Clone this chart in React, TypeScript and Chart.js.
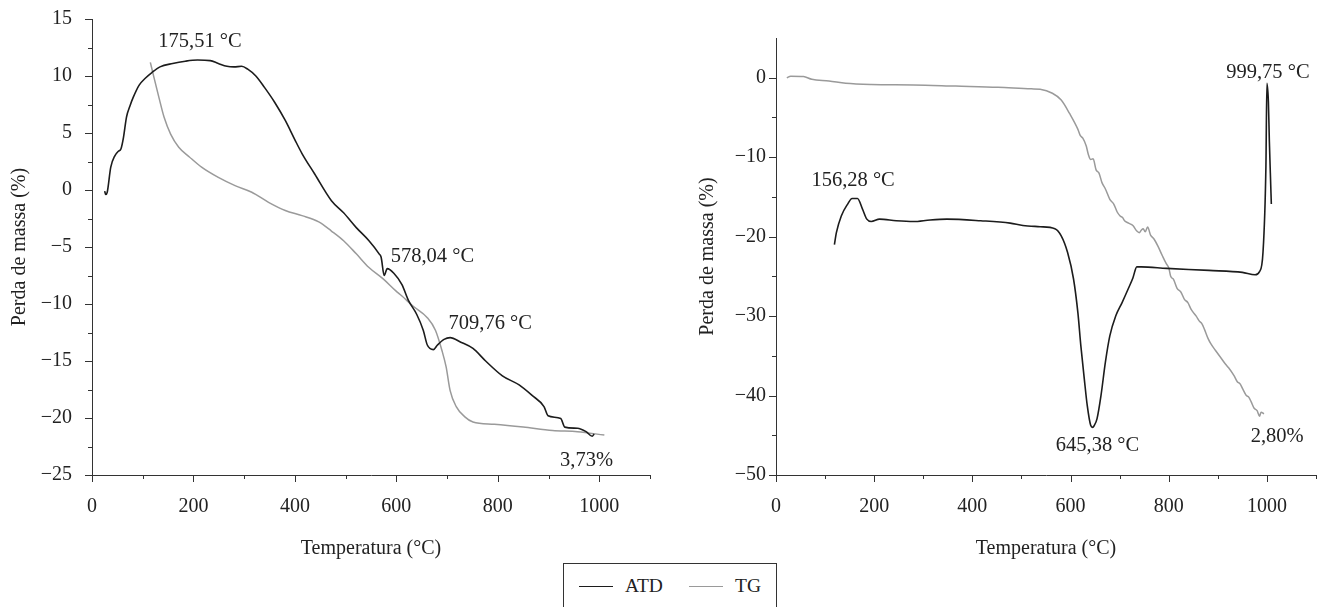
import React, { useEffect, useRef } from "react";
import { Chart, registerables } from "chart.js";

Chart.register(...registerables);

const FONT = "'Liberation Serif', 'Times New Roman', serif";
const INK = "#222";
const AXIS = "#333";
const ATD_COLOR = "#1c1c1c";
const TG_COLOR = "#9a9a9a";

// ---------- Left chart data ----------
const leftAtdT = [25, 27, 30, 37, 45, 52, 57, 62, 68, 75, 81, 93, 105, 118, 134, 159, 184, 208, 233, 249, 266, 280, 295, 307, 323, 340, 360, 381, 400, 414, 439, 472, 496, 521, 546, 566, 570, 576, 582, 595, 611, 624, 640, 653, 661, 673, 681, 694, 706, 727, 751, 776, 809, 842, 867, 891, 899, 924, 932, 957, 974, 986, 990];
const leftAtdV = [-0.1, -0.4, -0.2, 2.0, 3.0, 3.4, 3.6, 4.6, 6.4, 7.4, 8.1, 9.2, 9.8, 10.3, 10.8, 11.1, 11.3, 11.4, 11.35, 11.1, 10.85, 10.8, 10.85, 10.6, 10.0, 9.0, 7.7, 6.1, 4.4, 3.2, 1.4, -0.94, -2.0, -3.3, -4.45, -5.6, -5.9, -7.5, -6.9, -7.3, -8.3, -9.7, -10.9, -12.3, -13.6, -14.0, -13.6, -13.1, -12.95, -13.35, -13.9, -15.0, -16.3, -17.1, -18.0, -19.0, -19.8, -20.05, -20.8, -20.9, -21.2, -21.6, -21.4];

const leftTgT = [115, 122, 132, 142, 155, 171, 192, 216, 249, 282, 315, 348, 381, 414, 447, 472, 496, 521, 546, 574, 599, 611, 632, 661, 677, 690, 698, 706, 718, 735, 751, 793, 850, 908, 957, 1010];
const leftTgV = [11.2, 9.9, 8.1, 6.4, 4.9, 3.75, 2.9, 2.0, 1.1, 0.38, -0.2, -1.08, -1.8, -2.25, -2.8, -3.6, -4.45, -5.6, -6.8, -7.8, -8.85, -9.3, -10.15, -11.2, -12.3, -14.1, -15.5, -17.6, -19.0, -19.9, -20.35, -20.55, -20.8, -21.1, -21.2, -21.5];

const leftNoteText = ["175,51 °C", "578,04 °C", "709,76 °C", "3,73%"];
const leftNoteT = [213, 671, 785, 975];
const leftNoteV = [13.0, -5.8, -11.7, -23.7];

// ---------- Right chart data ----------
const rightAtdT = [119, 123, 133, 146, 155, 166, 176, 185, 194, 211, 245, 280, 314, 348, 417, 477, 503, 538, 568, 581, 594, 606, 615, 621, 628, 634, 641, 645, 648, 654, 662, 671, 680, 692, 705, 718, 727, 735, 744, 796, 882, 950, 976, 985, 992, 998, 1000, 1003, 1005, 1007, 1009];
const rightAtdV = [-21.0, -19.5, -17.4, -15.9, -15.2, -15.2, -16.5, -17.8, -18.1, -17.8, -18.0, -18.1, -17.9, -17.8, -18.0, -18.3, -18.6, -18.75, -19.0, -19.9, -22.0, -25.3, -29.6, -33.75, -37.9, -41.25, -43.75, -44.0, -43.8, -42.9, -40.0, -35.8, -32.5, -30.0, -28.3, -26.5, -25.2, -23.8, -23.8, -24.0, -24.25, -24.5, -24.8, -24.4, -22.0, -11.1, -0.7, -3.0, -8.0, -12.0, -15.9];

const rightTgT = [22, 30, 56, 73, 108, 142, 194, 280, 366, 452, 520, 538, 563, 581, 598, 615, 620, 625, 632, 636, 641, 646, 652, 658, 664, 671, 680, 688, 695, 701, 706, 710, 718, 727, 735, 740, 744, 748, 752, 757, 763, 770, 778, 787, 795, 800, 804, 810, 817, 825, 832, 839, 846, 856, 862, 868, 873, 880, 886, 895, 908, 915, 922, 933, 940, 945, 951, 958, 963, 968, 974, 980, 985, 988, 994];
const rightTgV = [0.0, 0.2, 0.15, -0.2, -0.4, -0.7, -0.85, -0.9, -1.05, -1.2, -1.4, -1.45, -1.95, -2.8, -4.5, -6.5, -7.3, -7.6, -8.6, -9.6, -10.3, -10.2, -11.6, -12.0, -13.2, -14.0, -15.3, -15.9, -16.9, -17.4, -17.6, -18.0, -18.3, -18.6, -19.3, -19.5, -19.2, -19.0, -19.4, -18.8, -19.8, -20.3, -21.2, -22.4, -23.4, -23.9, -25.0, -25.4, -26.5, -27.0, -27.9, -28.3, -29.2, -30.0, -30.6, -31.0, -31.7, -32.8, -33.5, -34.3, -35.4, -36.0, -36.5, -37.5, -38.3, -38.5, -39.2, -40.0, -40.2, -40.8, -41.6, -41.9, -42.6, -42.1, -42.3];

const rightNoteText = ["156,28 °C", "645,38 °C", "999,75 °C", "2,80%"];
const rightNoteT = [157, 655, 1002, 1021];
const rightNoteV = [-13.0, -46.3, 0.6, -45.2];

const seriesNames = ["ATD", "TG"];
const xLabelStep = 200;
const xLabelMax = 1000;

const fmt = (v: number) => (v < 0 ? "\u2212" + Math.abs(v) : String(v));
const toPts = (t: number[], v: number[]) => t.map((x, i) => ({ x, y: v[i] }));
const isMult = (v: number, step: number) => {
  const r = v / step;
  return Math.abs(r - Math.round(r)) < 1e-6;
};

type Cfg = {
  atdT: number[]; atdV: number[]; tgT: number[]; tgV: number[];
  noteText: string[]; noteT: number[]; noteV: number[];
  yMin: number; yMax: number; yMajor: number; yMinor: number; yTickTop: number;
  yAxisWidth: number; yLabelPad: number; yTitlePad: number;
  padTop: number; padRight: number;
};

function makeDecor(cfg: Cfg) {
  return {
    id: "decor",
    afterDraw(chart: any) {
      const ctx = chart.ctx;
      const xs = chart.scales.x;
      const ys = chart.scales.y;
      ctx.save();
      ctx.strokeStyle = AXIS;
      ctx.lineWidth = 1;
      for (let v = 0; v <= 1100 + 1e-6; v += 100) {
        const major = isMult(v, 200);
        const px = Math.round(xs.getPixelForValue(v)) + 0.5;
        const y0 = Math.round(ys.bottom);
        ctx.beginPath();
        ctx.moveTo(px, y0);
        ctx.lineTo(px, y0 + (major ? 7 : 4));
        ctx.stroke();
      }
      for (let v = cfg.yMin; v <= cfg.yTickTop + 1e-6; v += cfg.yMinor) {
        const major = isMult(v, cfg.yMajor);
        const py = Math.round(ys.getPixelForValue(v)) + 0.5;
        const x0 = Math.round(xs.left);
        ctx.beginPath();
        ctx.moveTo(x0, py);
        ctx.lineTo(x0 - (major ? 7 : 4), py);
        ctx.stroke();
      }
      ctx.font = `20.5px ${FONT}`;
      ctx.fillStyle = INK;
      ctx.textAlign = "center";
      ctx.textBaseline = "middle";
      cfg.noteText.forEach((t, i) => {
        ctx.fillText(t, xs.getPixelForValue(cfg.noteT[i]), ys.getPixelForValue(cfg.noteV[i]));
      });
      ctx.restore();
    },
  };
}

function TaChart({ cfg, width, height }: { cfg: Cfg; width: number; height: number }) {
  const ref = useRef<HTMLCanvasElement | null>(null);
  useEffect(() => {
    if (!ref.current) return;
    const chart = new Chart(ref.current, {
      type: "line",
      data: {
        datasets: [
          {
            label: seriesNames[0],
            data: toPts(cfg.atdT, cfg.atdV),
            borderColor: ATD_COLOR,
            borderWidth: 1.6,
            pointRadius: 0,
            cubicInterpolationMode: "monotone",
            fill: false,
          },
          {
            label: seriesNames[1],
            data: toPts(cfg.tgT, cfg.tgV),
            borderColor: TG_COLOR,
            borderWidth: 1.5,
            pointRadius: 0,
            cubicInterpolationMode: "monotone",
            fill: false,
          },
        ],
      },
      options: {
        responsive: false,
        maintainAspectRatio: false,
        animation: false,
        devicePixelRatio: 1,
        layout: { padding: { top: cfg.padTop, right: cfg.padRight, left: 0, bottom: 0 } },
        plugins: { legend: { display: false }, tooltip: { enabled: false } },
        scales: {
          x: {
            type: "linear",
            min: 0,
            max: 1100,
            grid: { display: false, drawTicks: false },
            border: { display: true, color: AXIS, width: 1 },
            ticks: {
              stepSize: 100,
              autoSkip: false,
              maxRotation: 0,
              padding: 20,
              color: INK,
              font: { family: FONT, size: 20 },
              callback: (v: any) => {
                const n = Number(v);
                return isMult(n, xLabelStep) && n <= xLabelMax ? String(n) : "";
              },
            },
            title: {
              display: true,
              text: "Temperatura (°C)",
              color: INK,
              font: { family: FONT, size: 20 },
              padding: { top: 0, bottom: 9 },
            },
            afterFit: (s: any) => {
              s.height = height - 475;
              s.paddingLeft = 0;
              s.paddingRight = 0;
            },
          },
          y: {
            type: "linear",
            min: cfg.yMin,
            max: cfg.yMax,
            grid: { display: false, drawTicks: false },
            border: { display: true, color: AXIS, width: 1 },
            ticks: {
              stepSize: cfg.yMinor,
              autoSkip: false,
              padding: cfg.yLabelPad,
              color: INK,
              font: { family: FONT, size: 20 },
              callback: (v: any) => {
                const n = Number(v);
                return isMult(n, cfg.yMajor) && n <= cfg.yTickTop ? fmt(n) : "";
              },
            },
            title: {
              display: true,
              text: "Perda de massa (%)",
              color: INK,
              font: { family: FONT, size: 20 },
              padding: { top: cfg.yTitlePad, bottom: 0 },
            },
            afterFit: (s: any) => {
              s.width = cfg.yAxisWidth;
              s.paddingTop = 0;
              s.paddingBottom = 0;
            },
          },
        },
      } as any,
      plugins: [makeDecor(cfg)],
    });
    return () => chart.destroy();
  }, [cfg, width, height]);
  return <canvas ref={ref} width={width} height={height} style={{ width, height, display: "block" }} />;
}

const leftCfg: Cfg = {
  atdT: leftAtdT, atdV: leftAtdV, tgT: leftTgT, tgV: leftTgV,
  noteText: leftNoteText, noteT: leftNoteT, noteV: leftNoteV,
  yMin: -25, yMax: 15, yMajor: 5, yMinor: 2.5, yTickTop: 15,
  yAxisWidth: 92, yLabelPad: 20, yTitlePad: 8,
  padTop: 19, padRight: 10,
};

const rightCfg: Cfg = {
  atdT: rightAtdT, atdV: rightAtdV, tgT: rightTgT, tgV: rightTgV,
  noteText: rightNoteText, noteT: rightNoteT, noteV: rightNoteV,
  yMin: -50, yMax: 5, yMajor: 10, yMinor: 5, yTickTop: 0,
  yAxisWidth: 116, yLabelPad: 10, yTitlePad: 36,
  padTop: 38, padRight: 5,
};

export default function App() {
  const H = 570;
  return (
    <div style={{ position: "fixed", left: 0, top: 0, width: 1321, height: 607, overflow: "hidden", background: "#fff" }}>
      <div style={{ position: "absolute", left: 0, top: 0 }}>
        <TaChart cfg={leftCfg} width={660} height={H} />
      </div>
      <div style={{ position: "absolute", left: 660, top: 0 }}>
        <TaChart cfg={rightCfg} width={661} height={H} />
      </div>
      <div
        style={{
          position: "absolute", left: 563, top: 563, width: 214, height: 60,
          border: `1.5px solid ${AXIS}`, boxSizing: "border-box", background: "#fff",
          fontFamily: FONT, fontSize: 19.5, color: INK, zIndex: 2,
        }}
      >
        <span style={{ position: "absolute", left: 15, top: 22, width: 34, borderTop: `1.6px solid ${ATD_COLOR}` }} />
        <span style={{ position: "absolute", left: 61, top: 11, lineHeight: "22px" }}>{seriesNames[0]}</span>
        <span style={{ position: "absolute", left: 125, top: 22, width: 34, borderTop: `1.5px solid ${TG_COLOR}` }} />
        <span style={{ position: "absolute", left: 171, top: 11, lineHeight: "22px" }}>{seriesNames[1]}</span>
      </div>
    </div>
  );
}
